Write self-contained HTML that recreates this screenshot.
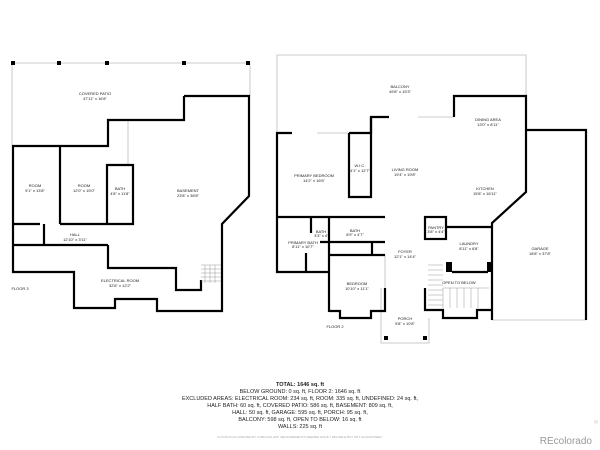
<!DOCTYPE html>
<html><head><style>
html,body{margin:0;padding:0;background:#fff;}
svg{display:block;}
text{font-family:"Liberation Sans",sans-serif;fill:#222;}
.l{font-size:4px;text-anchor:middle;}
</style></head><body>
<svg width="600" height="450" viewBox="0 0 600 450">
<g fill="none" stroke="#bbb" stroke-width="0.8">
<polyline points="12,145 12,63 250,63 250,96"/>
<polyline points="277,132 277,55 526,55 526,96"/>
<polyline points="381,288 381,343 429,343 429,318"/>
<line x1="492" y1="320" x2="586" y2="320"/>
<line x1="317" y1="133" x2="349" y2="133"/>
<line x1="418" y1="117" x2="454" y2="117"/>
<line x1="128" y1="120" x2="128" y2="165"/>
<line x1="385" y1="255" x2="385" y2="288"/>
</g>
<g fill="#000">
<rect x="11" y="61" width="4" height="4"/><rect x="57" y="61" width="4" height="4"/><rect x="105" y="61" width="4" height="4"/><rect x="182" y="61" width="4" height="4"/><rect x="246" y="61" width="4" height="4"/>
<rect x="384" y="336" width="4" height="4"/><rect x="423" y="336" width="4" height="4"/>
<rect x="446" y="262" width="6" height="10"/><rect x="487" y="262" width="6" height="10"/>
</g>
<g fill="none" stroke="#000" stroke-width="2.2" stroke-linejoin="miter">
<!-- left floor -->
<polyline points="184,96 249,96 249,196 222,224 222,311 157,311 157,299 115,299 115,308 74,308 74,272 13,272 13,146 108,146 108,120 184,120 184,96"/>
<line x1="60" y1="146" x2="60" y2="224"/>
<polyline points="107,224 107,165 133,165 133,224 60,224"/>
<line x1="13" y1="224" x2="40" y2="224"/>
<line x1="44" y1="224" x2="44" y2="245"/>
<line x1="13" y1="245" x2="108" y2="245"/>
<polyline points="108,245 108,268 176,268 176,290 201,290 201,280"/>
<!-- right floor -->
<polyline points="292,133 277,133 277,272 329,272"/>
<polyline points="349,133 371,133 371,117 389,117"/>
<polyline points="454,117 454,96 526,96 526,192 492,223 492,320"/>
<polyline points="526,130 586,130 586,320"/>
<polyline points="349,133 349,197 371,197 371,117"/>
<line x1="277" y1="217" x2="385" y2="217"/>
<line x1="311" y1="217" x2="311" y2="233"/>
<line x1="329" y1="217" x2="329" y2="312"/>
<line x1="320" y1="242" x2="385" y2="242"/>
<line x1="306" y1="253" x2="306" y2="272"/>
<line x1="372" y1="242" x2="372" y2="255"/>
<line x1="329" y1="255" x2="385" y2="255"/>
<polyline points="385,288 385,311 371,311 371,318 340,318 340,311 329,311"/>
<polyline points="425,288 425,310 443,310 443,318 477,318 477,310 493,310"/>
<rect x="425" y="217" width="21" height="22"/>
<line x1="446" y1="227" x2="493" y2="227"/>
<line x1="452" y1="272" x2="488" y2="272"/>
</g>
<g stroke="#999" stroke-width="0.5">
<path d="M201,265h20M201,269h20M201,273h20M201,277h20M201,281h20M205,265v18M210,265v18M215,265v18"/>
<path d="M428,265h15M428,270h15M428,275h15M428,280h15M428,285h15M428,290h15M428,295h15M428,300h15M428,305h15M443,288h46M443,288v20M450,288v20M457,288v20M464,288v20M471,288v20M478,288v20"/>
</g>
<text class="l" x="95" y="95">COVERED PATIO</text><text class="l" x="95" y="100">47'11" x 16'8"</text>
<text class="l" x="35" y="187">ROOM</text><text class="l" x="35" y="192">9'1" x 13'8"</text>
<text class="l" x="84" y="187">ROOM</text><text class="l" x="84" y="192">12'0" x 15'0"</text>
<text class="l" x="120" y="190">BATH</text><text class="l" x="120" y="195">4'8" x 11'8"</text>
<text class="l" x="188" y="192">BASEMENT</text><text class="l" x="188" y="197">23'8" x 38'8"</text>
<text class="l" x="75" y="236">HALL</text><text class="l" x="75" y="241">12'10" x 3'11"</text>
<text class="l" x="120" y="282">ELECTRICAL ROOM</text><text class="l" x="120" y="287">32'6" x 12'2"</text>
<text class="l" x="20" y="290">FLOOR 3</text>
<text class="l" x="400" y="88">BALCONY</text><text class="l" x="400" y="93">49'8" x 15'3"</text>
<text class="l" x="488" y="121">DINING AREA</text><text class="l" x="488" y="126">13'0" x 8'11"</text>
<text class="l" x="360" y="167">W.I.C.</text><text class="l" x="360" y="172">4'1" x 12'7"</text>
<text class="l" x="314" y="177">PRIMARY BEDROOM</text><text class="l" x="314" y="182">14'2" x 16'6"</text>
<text class="l" x="405" y="171">LIVING ROOM</text><text class="l" x="405" y="176">19'4" x 19'8"</text>
<text class="l" x="485" y="190">KITCHEN</text><text class="l" x="485" y="195">15'8" x 16'11"</text>
<text class="l" x="321" y="233">BATH</text><text class="l" x="321" y="237">3'3" x 4'</text>
<text class="l" x="355" y="232">BATH</text><text class="l" x="355" y="236">8'9" x 4'7"</text>
<text class="l" x="303" y="244">PRIMARY BATH</text><text class="l" x="303" y="248">8'11" x 10'7"</text>
<text class="l" x="405" y="253">FOYER</text><text class="l" x="405" y="258">12'1" x 14'4"</text>
<text class="l" x="436" y="229">PANTRY</text><text class="l" x="436" y="233">3'8" x 4'4"</text>
<text class="l" x="469" y="245">LAUNDRY</text><text class="l" x="469" y="250">8'11" x 6'8"</text>
<text class="l" x="459" y="284">OPEN TO BELOW</text>
<text class="l" x="540" y="250">GARAGE</text><text class="l" x="540" y="255">18'8" x 37'8"</text>
<text class="l" x="357" y="285">BEDROOM</text><text class="l" x="357" y="290">10'10" x 11'1"</text>
<text class="l" x="405" y="320">PORCH</text><text class="l" x="405" y="325">9'8" x 10'8"</text>
<text class="l" x="335" y="328">FLOOR 2</text>
<g font-size="5.5" text-anchor="middle">
<text x="300" y="386" font-weight="bold">TOTAL: 1646 sq. ft</text>
<text x="300" y="393">BELOW GROUND: 0 sq. ft, FLOOR 2: 1646 sq. ft</text>
<text x="300" y="400">EXCLUDED AREAS: ELECTRICAL ROOM: 234 sq. ft, ROOM: 335 sq. ft, UNDEFINED: 24 sq. ft,</text>
<text x="300" y="407">HALF BATH: 60 sq. ft, COVERED PATIO: 586 sq. ft, BASEMENT: 809 sq. ft,</text>
<text x="300" y="414">HALL: 50 sq. ft, GARAGE: 595 sq. ft, PORCH: 95 sq. ft,</text>
<text x="300" y="421">BALCONY: 598 sq. ft, OPEN TO BELOW: 16 sq. ft</text>
<text x="300" y="428">WALLS: 225 sq. ft</text>
</g>
<text x="300" y="438" font-size="3" text-anchor="middle" style="fill:#aaa">FLOOR PLAN CREATED BY CUBICASA APP. MEASUREMENTS DEEMED HIGHLY RELIABLE BUT NOT GUARANTEED.</text>
<text x="592" y="444" font-size="10" text-anchor="end" style="fill:#999">REcolorado</text>
<text x="594" y="420" font-size="5" style="fill:#bbb" transform="rotate(90 594 420)">©</text>
</svg>
</body></html>
